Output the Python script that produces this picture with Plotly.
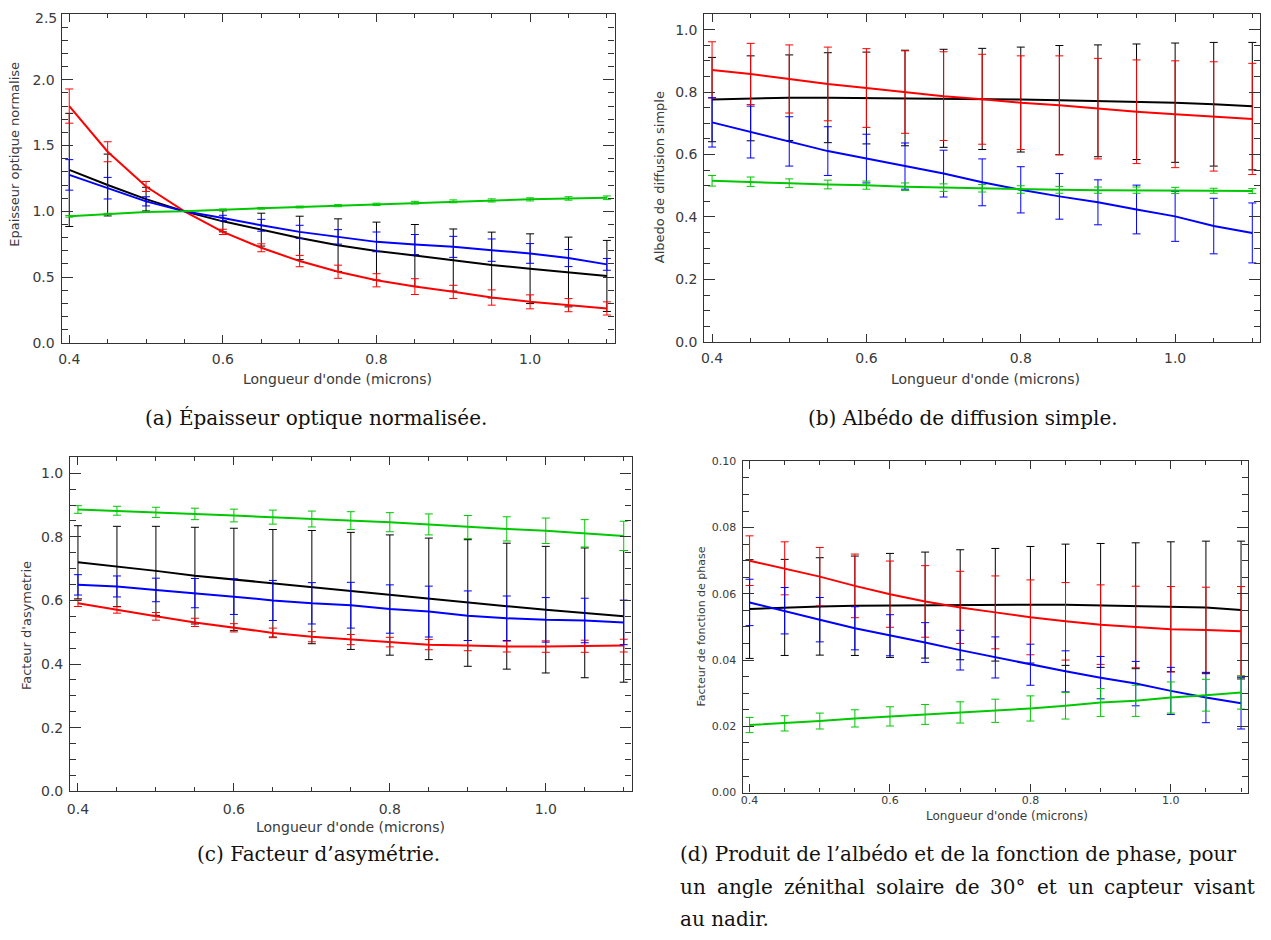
import plotly.graph_objects as go

# The page body has an 8px default margin: the figure is drawn 8px right/down,
# so every reference pixel position is shifted back by OFF, and the figure is
# kept small enough that the page does not overflow the 1271x940 window.
OFF = 8
W, H = 1271 - OFF, 940 - 2 * OFF
# small empirical correction of the vertical placement
YS, YB, XB = 0.984, 7.5, 2.0

wavelength = [0.40, 0.45, 0.50, 0.55, 0.60, 0.65, 0.70, 0.75, 0.80, 0.85, 0.90, 0.95, 1.00, 1.05, 1.10]

# (a) Epaisseur optique normalisee
tau_black = [1.315, 1.200, 1.093, 1.000, 0.924, 0.861, 0.798, 0.743, 0.698, 0.665, 0.630, 0.592, 0.564, 0.539, 0.509]
tau_black_err = [0.430, 0.235, 0.090, 0.000, 0.080, 0.125, 0.165, 0.200, 0.220, 0.235, 0.236, 0.250, 0.265, 0.265, 0.270]
tau_red = [1.800, 1.453, 1.189, 1.000, 0.844, 0.723, 0.622, 0.541, 0.476, 0.428, 0.388, 0.345, 0.312, 0.287, 0.262]
tau_red_err = [0.130, 0.076, 0.038, 0.000, 0.020, 0.030, 0.043, 0.050, 0.050, 0.060, 0.050, 0.058, 0.053, 0.050, 0.050]
tau_blue = [1.277, 1.176, 1.076, 1.000, 0.950, 0.894, 0.844, 0.806, 0.768, 0.748, 0.730, 0.705, 0.680, 0.645, 0.597]
tau_blue_err = [0.116, 0.082, 0.035, 0.000, 0.020, 0.045, 0.050, 0.055, 0.075, 0.076, 0.080, 0.085, 0.075, 0.065, 0.045]
tau_green = [0.962, 0.980, 0.995, 1.000, 1.013, 1.023, 1.033, 1.043, 1.053, 1.066, 1.076, 1.083, 1.091, 1.098, 1.103]
tau_green_err = [0.006, 0.005, 0.004, 0.000, 0.005, 0.006, 0.007, 0.008, 0.009, 0.010, 0.011, 0.012, 0.012, 0.013, 0.014]

# (b) Albedo de diffusion simple
alb_black = [0.776, 0.780, 0.782, 0.782, 0.781, 0.781, 0.780, 0.778, 0.776, 0.774, 0.772, 0.769, 0.766, 0.761, 0.755]
alb_black_err = [0.135, 0.136, 0.137, 0.144, 0.147, 0.153, 0.157, 0.162, 0.168, 0.175, 0.179, 0.185, 0.191, 0.198, 0.204]
alb_red = [0.871, 0.858, 0.842, 0.826, 0.813, 0.800, 0.787, 0.777, 0.766, 0.758, 0.747, 0.737, 0.729, 0.722, 0.714]
alb_red_err = [0.090, 0.098, 0.109, 0.118, 0.126, 0.132, 0.142, 0.144, 0.150, 0.158, 0.161, 0.166, 0.171, 0.175, 0.178]
alb_blue = [0.703, 0.672, 0.642, 0.611, 0.587, 0.563, 0.539, 0.511, 0.487, 0.466, 0.447, 0.424, 0.402, 0.371, 0.349]
alb_blue_err = [0.079, 0.083, 0.079, 0.078, 0.078, 0.074, 0.075, 0.075, 0.074, 0.073, 0.072, 0.078, 0.080, 0.089, 0.096]
alb_green = [0.516, 0.513, 0.508, 0.504, 0.502, 0.497, 0.494, 0.492, 0.488, 0.487, 0.486, 0.486, 0.485, 0.484, 0.483]
alb_green_err = [0.017, 0.015, 0.014, 0.014, 0.013, 0.012, 0.012, 0.012, 0.012, 0.011, 0.010, 0.010, 0.010, 0.008, 0.008]

# (c) Facteur d'asymetrie
g_black = [0.720, 0.707, 0.693, 0.678, 0.666, 0.654, 0.642, 0.630, 0.617, 0.605, 0.592, 0.582, 0.571, 0.561, 0.550]
g_black_err = [0.115, 0.126, 0.140, 0.152, 0.161, 0.169, 0.178, 0.184, 0.189, 0.191, 0.199, 0.198, 0.199, 0.204, 0.207]
g_red = [0.591, 0.570, 0.550, 0.531, 0.514, 0.498, 0.486, 0.477, 0.469, 0.461, 0.458, 0.455, 0.455, 0.456, 0.458]
g_red_err = [0.010, 0.010, 0.012, 0.013, 0.013, 0.015, 0.016, 0.016, 0.015, 0.016, 0.016, 0.017, 0.018, 0.019, 0.020]
g_blue = [0.649, 0.644, 0.633, 0.623, 0.612, 0.600, 0.591, 0.585, 0.573, 0.565, 0.552, 0.544, 0.539, 0.537, 0.531]
g_blue_err = [0.032, 0.033, 0.037, 0.046, 0.056, 0.063, 0.065, 0.072, 0.076, 0.080, 0.078, 0.070, 0.070, 0.070, 0.070]
g_green = [0.886, 0.882, 0.877, 0.872, 0.867, 0.862, 0.856, 0.851, 0.846, 0.839, 0.831, 0.825, 0.819, 0.811, 0.803]
g_green_err = [0.012, 0.014, 0.016, 0.018, 0.020, 0.022, 0.025, 0.028, 0.030, 0.033, 0.036, 0.038, 0.040, 0.043, 0.046]

# (d) Facteur de fonction de phase
p_black = [0.0554, 0.0559, 0.0562, 0.0564, 0.0565, 0.0566, 0.0567, 0.0567, 0.0567, 0.0567, 0.0565, 0.0564, 0.0561, 0.0559, 0.0551]
p_black_err = [0.0149, 0.0145, 0.0147, 0.0150, 0.0157, 0.0160, 0.0166, 0.0170, 0.0176, 0.0183, 0.0187, 0.0190, 0.0196, 0.0200, 0.0208]
p_red = [0.0700, 0.0677, 0.0652, 0.0624, 0.0599, 0.0577, 0.0559, 0.0544, 0.0529, 0.0517, 0.0507, 0.0500, 0.0493, 0.0491, 0.0487]
p_red_err = [0.0075, 0.0080, 0.0088, 0.0096, 0.0100, 0.0108, 0.0109, 0.0110, 0.0113, 0.0117, 0.0120, 0.0123, 0.0129, 0.0129, 0.0135]
p_blue = [0.0574, 0.0549, 0.0522, 0.0496, 0.0475, 0.0453, 0.0430, 0.0408, 0.0386, 0.0366, 0.0347, 0.0329, 0.0307, 0.0287, 0.0270]
p_blue_err = [0.0070, 0.0070, 0.0067, 0.0065, 0.0062, 0.0060, 0.0060, 0.0062, 0.0062, 0.0062, 0.0064, 0.0067, 0.0071, 0.0076, 0.0078]
p_green = [0.0204, 0.0209, 0.0216, 0.0224, 0.0230, 0.0236, 0.0242, 0.0247, 0.0254, 0.0262, 0.0272, 0.0277, 0.0287, 0.0294, 0.0302]
p_green_err = [0.0023, 0.0023, 0.0024, 0.0026, 0.0029, 0.0030, 0.0032, 0.0035, 0.0038, 0.0040, 0.0042, 0.0047, 0.0047, 0.0048, 0.0050]

x_ticks = [0.4, 0.6, 0.8, 1.0]
x_title = "Longueur d'onde (microns)"
tau_ticks = [0.0, 0.5, 1.0, 1.5, 2.0]   # 2.5 is written just under the top frame, as in the original
tau_top_label = "2.5"

COL = {"black": "#000000", "red": "#ff0000", "blue": "#0000ff", "green": "#00c800"}

panels = [
    dict(series=[("black", tau_black, tau_black_err), ("red", tau_red, tau_red_err),
                 ("blue", tau_blue, tau_blue_err), ("green", tau_green, tau_green_err)],
         yrange=[0, 2.5], dtick=0.5, minor=0.1, fmt=".1f", tickvals=tau_ticks,
         box=(60.7, 615, 13.3, 344), fs=14, stand=3),
    dict(series=[("black", alb_black, alb_black_err), ("red", alb_red, alb_red_err),
                 ("blue", alb_blue, alb_blue_err), ("green", alb_green, alb_green_err)],
         yrange=[0, 1.05], dtick=0.2, minor=0.05, fmt=".1f", tickvals=None,
         box=(705, 1262, 11, 343), fs=14, stand=3),
    dict(series=[("black", g_black, g_black_err), ("red", g_red, g_red_err),
                 ("blue", g_blue, g_blue_err), ("green", g_green, g_green_err)],
         yrange=[0, 1.05], dtick=0.2, minor=0.05, fmt=".1f", tickvals=None,
         box=(69.3, 632, 458.3, 792), fs=14, stand=5),
    dict(series=[("black", p_black, p_black_err), ("red", p_red, p_red_err),
                 ("blue", p_blue, p_blue_err), ("green", p_green, p_green_err)],
         yrange=[0, 0.1], dtick=0.02, minor=0.005, fmt=".2f", tickvals=None,
         box=(743.3, 1250, 462.3, 793.3), fs=11, stand=-3),
]

fig = go.Figure()
layout = dict(width=W, height=H, autosize=False, margin=dict(l=0, r=0, t=0, b=0),
              paper_bgcolor="white", plot_bgcolor="white", showlegend=False)
annotations = []
AXC = "#333333"
TXC = "#3a3a3a"
SANS = "DejaVu Sans"


def PX(x):
    return (x - XB - OFF) / W


def PY(y):
    return 1 - ((y - YB) / YS - OFF) / H


for i, p in enumerate(panels, start=1):
    l, r, t, b = p["box"]
    xa = "xaxis" if i == 1 else f"xaxis{i}"
    ya = "yaxis" if i == 1 else f"yaxis{i}"
    xref = "x" if i == 1 else f"x{i}"
    yref = "y" if i == 1 else f"y{i}"
    for name, vals, errs in p["series"]:
        fig.add_trace(go.Scatter(
            x=wavelength, y=vals, mode="lines", xaxis=xref, yaxis=yref,
            line=dict(color=COL[name], width=2),
            error_y=dict(type="data", array=errs, visible=True, color=COL[name],
                         thickness=1, width=4),
            hoverinfo="skip"))
    fs = p["fs"]
    layout[xa] = dict(domain=[max(PX(l), 0), min(PX(r), 1)], anchor=yref, range=[0.39, 1.11],
                      tickmode="array", tickvals=x_ticks, tickformat=".1f",
                      ticks="inside", ticklen=8, tickcolor=AXC, tickwidth=1,
                      minor=dict(dtick=0.05, tick0=0.4, ticks="inside", ticklen=4,
                                 tickcolor=AXC, tickwidth=1, showgrid=False),
                      showline=True, linecolor=AXC, linewidth=1.2, mirror="allticks",
                      showgrid=False, zeroline=False,
                      tickfont=dict(family=SANS, size=fs, color=TXC),
                      ticklabelstandoff=p["stand"])
    yax = dict(domain=[max(PY(b), 0), min(PY(t), 1)], anchor=xref, range=p["yrange"],
               tickformat=p["fmt"],
               ticks="inside", ticklen=11, tickcolor=AXC, tickwidth=1,
               minor=dict(tickmode="linear", dtick=p["minor"], tick0=0, ticks="inside", ticklen=6,
                          tickcolor=AXC, tickwidth=1, showgrid=False),
               showline=True, linecolor=AXC, linewidth=1.2, mirror="allticks",
               showgrid=False, zeroline=False,
               tickfont=dict(family=SANS, size=fs, color=TXC),
               ticklabelstandoff=3)
    if p["tickvals"] is not None:
        yax.update(tickmode="array", tickvals=p["tickvals"])
    else:
        yax.update(dtick=p["dtick"], tick0=0)
    layout[ya] = yax


def note(text, x, y, xanchor="center", angle=0, font=None):
    annotations.append(dict(text=text, x=PX(x), y=PY(y), xref="paper", yref="paper",
                            showarrow=False, textangle=angle, xanchor=xanchor,
                            yanchor="middle", font=font, borderpad=0))


# top label of panel (a), placed under the frame like the other panels' edge labels
note(tau_top_label, 57, 19, xanchor="right", font=dict(family=SANS, size=14, color=TXC))

ytitles = [("Epaisseur optique normalise", 14, 155, 13),
           ("Albedo de diffusion simple", 660, 178, 13),
           ("Facteur d'asymetrie", 25, 626, 13),
           ("Facteur de fonction de phase", 702, 627, 11)]
for txt, x, y, fs in ytitles:
    note(txt, x, y, angle=-90, font=dict(family=SANS, size=fs, color=TXC))

xtitles = [(337, 380, 14), (987, 380, 14), (350, 828, 14), (1008, 817, 12)]
for x, y, fs in xtitles:
    note(x_title, x, y, font=dict(family=SANS, size=fs, color=TXC))

# captions
CAP = dict(family="DejaVu Serif", size=20, color="#111111")
note("(a) Épaisseur optique normalisée.", 316, 419, font=CAP)
note("(b) Albédo de diffusion simple.", 964, 419, font=CAP)
note("(c) Facteur d’asymétrie.", 318, 855, font=CAP)
note("(d) Produit de l’albédo et de la fonction de phase, pour", 680, 855, xanchor="left", font=CAP)

# second caption line of (d) is justified between x=680 and x=1255
line2_words = ["un", "angle", "zénithal", "solaire", "de", "30°", "et", "un", "capteur", "visant"]
line2_em = [1.288, 2.792, 4.043, 3.421, 1.232, 1.772, 0.994, 1.288, 3.912, 3.040]  # DejaVu Serif widths
wpx = [e * CAP["size"] for e in line2_em]
gap = (1255 - 680 - sum(wpx)) / (len(wpx) - 1)
xpos = 680
for w, wp in zip(line2_words, wpx):
    note(w, xpos, 888, xanchor="left", font=CAP)
    xpos += wp + gap
note("au nadir.", 680, 920, xanchor="left", font=CAP)

layout["annotations"] = annotations
fig.update_layout(**layout)
fig.write_html("out.html")
